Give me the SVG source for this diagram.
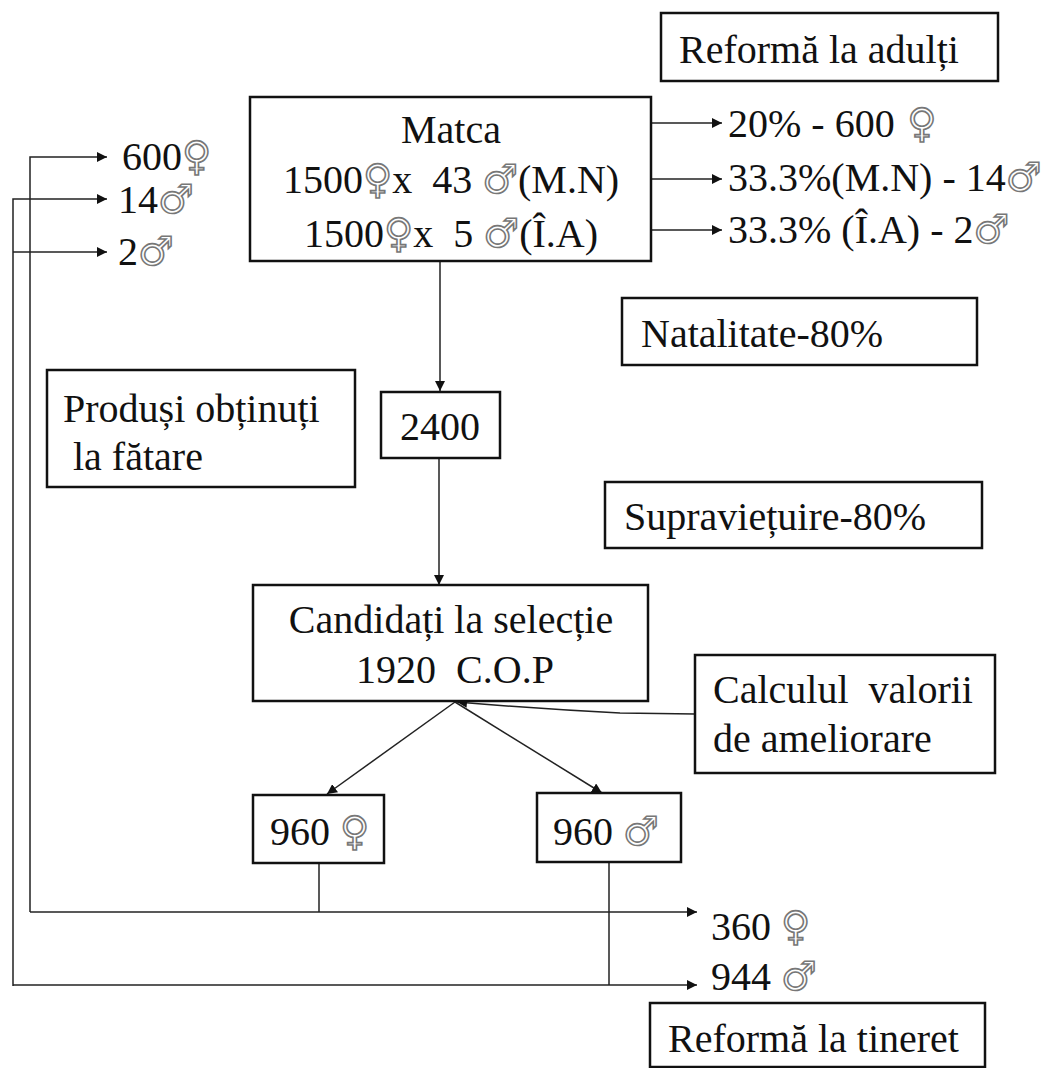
<svg xmlns="http://www.w3.org/2000/svg" width="1043" height="1068" viewBox="0 0 1043 1068">
<defs>
<marker id="ah" viewBox="0 0 10 10" refX="10" refY="5" markerWidth="10" markerHeight="10" markerUnits="userSpaceOnUse" orient="auto">
<path d="M0,0 L10,5 L0,10 z" fill="#111"/>
</marker>
<style>
.box{fill:#fff;stroke:#111;stroke-width:2.5}
.t{font-family:"Liberation Serif","Times New Roman",serif;font-size:40px;fill:#111;white-space:pre}
.c{text-anchor:middle}
.s{fill:#fff;stroke:#777;stroke-width:1.6;font-family:"DejaVu Sans",sans-serif;font-size:40px}
.ln{fill:none;stroke:#222;stroke-width:1.5}
.la{fill:none;stroke:#222;stroke-width:1.5;marker-end:url(#ah)}
</style>
</defs>
<rect width="1043" height="1068" fill="#fff"/>
<g id="connectors">
<line class="la" x1="440" y1="262" x2="440" y2="391"/>
<line class="la" x1="439" y1="458" x2="439" y2="585"/>
<line class="la" x1="651" y1="123" x2="722" y2="123"/>
<line class="la" x1="651" y1="179" x2="722" y2="179"/>
<line class="la" x1="651" y1="230" x2="722" y2="230"/>
<path class="la" d="M695,714 L620,713 Q540,709 457,702"/>
<line class="la" x1="455" y1="702" x2="327" y2="794"/>
<line class="la" x1="455" y1="702" x2="602" y2="793"/>
<line class="ln" x1="319" y1="863" x2="319" y2="912"/>
<line class="ln" x1="609" y1="862" x2="609" y2="985"/>
<polyline class="la" points="30,912 30,157 107,157"/>
<polyline class="la" points="13,986 13,199 107,199"/>
<line class="la" x1="13" y1="252" x2="107" y2="252"/>
<line class="la" x1="30" y1="912" x2="697" y2="912"/>
<line class="la" x1="13" y1="985" x2="697" y2="985"/>
</g>
<g id="reforma-adulti">
<rect class="box" x="661" y="13" width="337" height="68"/>
<text class="t" x="679" y="63">Reformă la adulți</text>
</g>
<g id="matca">
<rect class="box" x="250" y="97" width="401" height="164"/>
<text class="t c" x="451" y="143">Matca</text>
<text class="t c" x="451" y="193">1500<tspan class="s">♀</tspan>x  43 <tspan class="s">♂</tspan>(M.N)</text>
<text class="t c" x="451" y="247">1500<tspan class="s">♀</tspan>x  5 <tspan class="s">♂</tspan>(Î.A)</text>
</g>
<g id="reforma-adulti-values">
<text class="t" x="728" y="137">20% - 600<tspan class="s"> ♀</tspan></text>
<text class="t" x="728" y="191">33.3%(M.N) - 14<tspan class="s">♂</tspan></text>
<text class="t" x="728" y="243">33.3% (Î.A) - 2<tspan class="s">♂</tspan></text>
</g>
<g id="left-values">
<text class="t" x="122" y="170">600<tspan class="s">♀</tspan></text>
<text class="t" x="118" y="213">14<tspan class="s">♂</tspan></text>
<text class="t" x="118" y="265">2<tspan class="s">♂</tspan></text>
</g>
<g id="natalitate">
<rect class="box" x="622" y="298" width="355" height="67"/>
<text class="t" x="641" y="347">Natalitate-80%</text>
</g>
<g id="produsi">
<rect class="box" x="47" y="370" width="308" height="117"/>
<text class="t" x="63" y="422">Produși obținuți</text>
<text class="t" x="63" y="470"> la fătare</text>
</g>
<g id="n2400">
<rect class="box" x="381" y="392" width="119" height="66"/>
<text class="t c" x="440" y="440">2400</text>
</g>
<g id="supravietuire">
<rect class="box" x="605" y="482" width="377" height="66"/>
<text class="t" x="624" y="530">Supraviețuire-80%</text>
</g>
<g id="candidati">
<rect class="box" x="253" y="585" width="395" height="116"/>
<text class="t c" x="451" y="633">Candidați la selecție</text>
<text class="t c" x="455" y="683">1920  C.O.P</text>
</g>
<g id="calculul">
<rect class="box" x="695" y="655" width="300" height="118"/>
<text class="t" x="713" y="703">Calculul  valorii</text>
<text class="t" x="713" y="752">de ameliorare</text>
</g>
<g id="f960">
<rect class="box" x="253" y="795" width="131" height="68"/>
<text class="t" x="270" y="845">960 <tspan class="s">♀</tspan></text>
</g>
<g id="m960">
<rect class="box" x="537" y="793" width="144" height="69"/>
<text class="t" x="553" y="845">960 <tspan class="s">♂</tspan></text>
</g>
<g id="tineret-values">
<text class="t" x="711" y="940">360 <tspan class="s">♀</tspan></text>
<text class="t" x="711" y="990">944 <tspan class="s">♂</tspan></text>
</g>
<g id="reforma-tineret">
<rect class="box" x="650" y="1003" width="335" height="64"/>
<text class="t" x="668" y="1052">Reformă la tineret</text>
</g>
</svg>
